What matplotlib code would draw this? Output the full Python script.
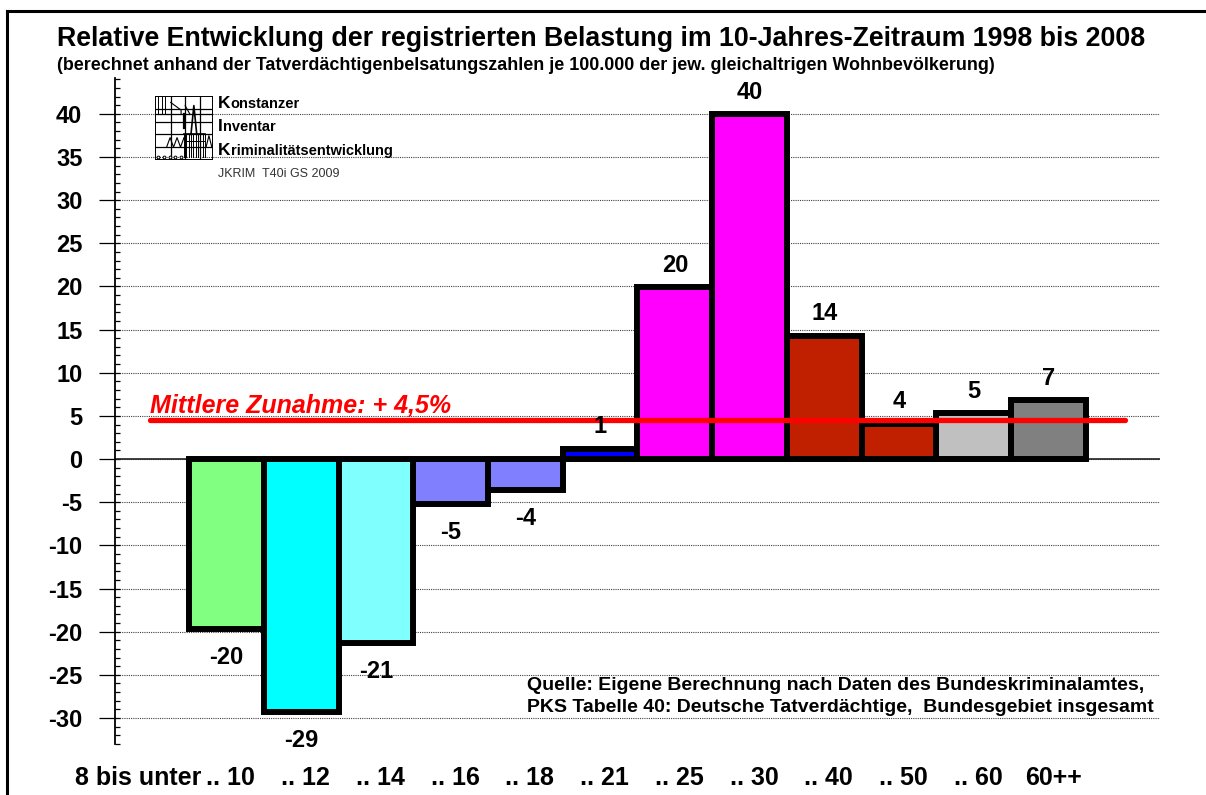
import numpy as np
import matplotlib.pyplot as plt
from matplotlib.patches import Rectangle
from matplotlib.lines import Line2D
from matplotlib.ticker import MultipleLocator

plt.rcParams['font.family'] = ['Liberation Sans', 'DejaVu Sans']

# Altersgruppen und relative Veraenderung 1998-2008 (in %)
age_groups = [".. 10", ".. 12", ".. 14", ".. 16", ".. 18", ".. 21",
              ".. 25", ".. 30", ".. 40", ".. 50", ".. 60", "60++"]
first_prefix = "8 bis unter"
change = [-19.7, -29.3, -21.3, -5.2, -3.6, 1.2, 19.9, 40.0, 14.3, 4.1, 5.3, 6.8]
bar_colors = ["#80FF80", "#00FFFF", "#80FFFF", "#8080FF", "#8080FF", "#0000FF",
              "#FF00FF", "#FF00FF", "#C02000", "#C02000", "#C0C0C0", "#808080"]
mean_change = 4.5
y_ticks = np.arange(-30, 45, 5)

W, H = 1206, 795
fig = plt.figure(figsize=(W / 100, H / 100), dpi=100)
ax = fig.add_axes([115 / W, 1 - 745.6 / H, 1045 / W, 670.6 / H])

x = np.arange(len(age_groups))
ax.bar(x, change, width=1.0, color=bar_colors, edgecolor='black',
       linewidth=4.3, zorder=3)

ax.set_xlim(-1.49, 12.49)
ax.set_ylim(-33.2, 44.5)

for s in ['top', 'right', 'bottom']:
    ax.spines[s].set_visible(False)
ax.spines['left'].set_bounds(-33, 44.2)
ax.spines['left'].set_linewidth(1.3)

# y-Achse
ax.set_yticks(y_ticks)
ax.set_yticklabels([str(t) for t in y_ticks], fontsize=17, fontweight='bold')
ax.yaxis.set_minor_locator(MultipleLocator(1))
ax.yaxis.remove_overlapping_locs = False
ax.tick_params(axis='y', which='major', direction='out', length=11.5,
               width=0.9, pad=12)
ax.tick_params(axis='y', which='minor', direction='in', length=3.6, width=0.9)
ax.grid(axis='y', which='major', linestyle=(0, (1, 1)), color='#404040',
        linewidth=0.8, zorder=0)
ax.axhline(0, color='#222222', linewidth=1.2, zorder=2)

# x-Achse
ax.set_xticks(x + 0.06)
ax.set_xticklabels(age_groups, fontsize=18, fontweight='bold')
ax.tick_params(axis='x', length=0, pad=14.5)
ax.annotate(first_prefix, xy=(-0.33, 0), xycoords=('data', 'axes fraction'),
            xytext=(0, -14.5), textcoords='offset points',
            ha='right', va='top', fontsize=18, fontweight='bold')

# Werte an den Balken
for xi, v in zip(x, change):
    if v >= 0:
        ax.annotate(f"{v:.0f}", xy=(xi, v), xytext=(0, 11),
                    textcoords='offset points', ha='center', va='baseline',
                    fontsize=17, fontweight='bold', zorder=5)
    else:
        ax.annotate(f"{v:.0f}", xy=(xi, v), xytext=(0, -12),
                    textcoords='offset points', ha='center', va='top',
                    fontsize=17, fontweight='bold', zorder=5)

# mittlere Zunahme
ax.axhline(mean_change, xmin=0.0335, xmax=0.9665, color='red',
           linewidth=3.8, solid_capstyle='round', zorder=4)
ax.text(0.0335, mean_change + 0.85, "Mittlere Zunahme: + 4,5%",
        transform=ax.get_yaxis_transform(), color='red', fontsize=18,
        fontweight='bold', fontstyle='italic', va='baseline', ha='left', zorder=5)

# weisser Hintergrund fuer das Logo
ax.add_patch(Rectangle((140 / W, 1 - 185 / H), 317 / W, 92 / H,
                       transform=fig.transFigure, facecolor='white',
                       edgecolor='none', zorder=1))

# Logo (vereinfacht)
lax = fig.add_axes([155 / W, 1 - 160 / H, 58 / W, 64 / H])
lax.set_xlim(0, 1)
lax.set_ylim(0, 1)
lax.axis('off')
lax.add_patch(Rectangle((0, 0), 1, 1, fill=False, edgecolor='black', lw=1.4))
for gx in [0.27, 0.52, 0.77]:
    lax.plot([gx, gx], [0, 1], color='black', lw=0.9)
for gy in [0.2, 0.4, 0.6, 0.72, 0.8]:
    lax.plot([0, 1], [gy, gy], color='black', lw=0.9)
for bx in np.linspace(0.5, 0.86, 10):
    lax.plot([bx, bx], [0.05, 0.4], color='black', lw=0.7)
lax.plot([0.5, 0.86], [0.4, 0.4], color='black', lw=1.2)
lax.plot([0.5, 0.86], [0.3, 0.3], color='black', lw=0.7)
lax.plot([0.62, 0.67, 0.72], [0.4, 0.85, 0.4], color='black', lw=1.2)
lax.plot([0.88, 0.93, 0.98], [0.2, 0.38, 0.2], color='black', lw=0.8)
lax.plot([0.2, 0.26, 0.32, 0.38, 0.44, 0.5], [0.2, 0.35, 0.2, 0.35, 0.2, 0.35],
         color='black', lw=0.8)
for gx in [0.06, 0.12, 0.18]:
    lax.plot([gx, gx], [0.72, 0.98], color='black', lw=0.7)
lax.plot([0.27, 0.45, 0.45], [0.9, 0.78, 0.72], color='black', lw=0.8)
lax.plot([0.52, 0.6], [0.85, 0.72], color='black', lw=0.8)
lax.plot([0.5, 0.5], [0.5, 0.72], color='black', lw=1.6)
lax.plot(np.linspace(0.05, 0.45, 5), [0.05] * 5, 'o', color='black',
         markersize=2, markerfacecolor='white', markeredgewidth=0.7)

logo_lines = [("K", "onstanzer", 108), ("I", "nventar", 131),
              ("K", "riminalitätsentwicklung", 155)]
for first, rest, base in logo_lines:
    t = fig.text(218 / W, 1 - base / H, first, fontsize=12.5, fontweight='bold',
                 va='baseline', ha='left')
    ax.annotate(rest, xy=(1, 0), xycoords=t, va='bottom', ha='left',
                fontsize=10.5, fontweight='bold', annotation_clip=False)
fig.text(218 / W, 1 - 177 / H, "JKRIM  T40i GS 2009", fontsize=9,
         color='#333333', va='baseline', ha='left')

# Titel
fig.text(57 / W, 1 - 46 / H,
         "Relative Entwicklung der registrierten Belastung im 10-Jahres-Zeitraum 1998 bis 2008",
         fontsize=19.3, fontweight='bold', va='baseline', ha='left')
fig.text(57 / W, 1 - 70 / H,
         "(berechnet anhand der Tatverdächtigenbelsatungszahlen je 100.000 der jew. gleichaltrigen Wohnbevölkerung)",
         fontsize=12.9, fontweight='bold', va='baseline', ha='left')

# Quelle
fig.text(527 / W, 1 - 690 / H,
         "Quelle: Eigene Berechnung nach Daten des Bundeskriminalamtes,",
         fontsize=14, fontweight='bold', va='baseline', ha='left')
fig.text(527 / W, 1 - 712 / H,
         "PKS Tabelle 40: Deutsche Tatverdächtige,  Bundesgebiet insgesamt",
         fontsize=14, fontweight='bold', va='baseline', ha='left')

# Rahmen
fig.add_artist(Line2D([7 / W, 7 / W], [0, 1 - 11 / H], transform=fig.transFigure,
                      color='black', lw=2.2))
fig.add_artist(Line2D([7 / W, 1], [1 - 11 / H, 1 - 11 / H], transform=fig.transFigure,
                      color='black', lw=2.2, solid_capstyle='projecting'))

fig.savefig("out.png", dpi=100)
